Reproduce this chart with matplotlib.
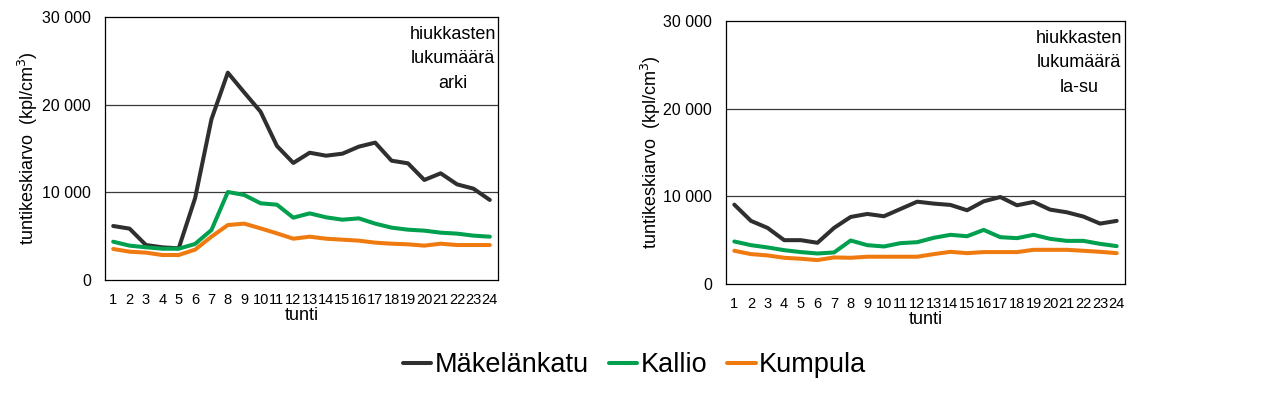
import matplotlib
matplotlib.use("Agg")
import matplotlib.pyplot as plt
from matplotlib.ticker import FuncFormatter

plt.rcParams['font.family'] = ['Liberation Sans', 'DejaVu Sans']

hours = list(range(1, 25))
series_names = ["Mäkelänkatu", "Kallio", "Kumpula"]
colors = ["#2f2f2f", "#00a04f", "#ef7b10"]

arki_makelankatu = [6160, 5860, 3990, 3730, 3610, 9320, 18330, 23650, 21400, 19200, 15290, 13350,
                    14520, 14180, 14410, 15210, 15670, 13610, 13310, 11410, 12170, 10910, 10420, 9130]
arki_kallio = [4370, 3920, 3730, 3570, 3570, 4110, 5700, 10040, 9700, 8750, 8590, 7110,
               7600, 7150, 6880, 7030, 6430, 5970, 5740, 5630, 5400, 5290, 5060, 4940]
arki_kumpula = [3540, 3230, 3120, 2850, 2850, 3460, 4940, 6270, 6430, 5890, 5320, 4710,
                4940, 4710, 4600, 4490, 4260, 4140, 4070, 3920, 4140, 3990, 3990, 3990]

lasu_makelankatu = [9050, 7200, 6400, 5000, 5000, 4700, 6400, 7650, 7990, 7730, 8560, 9390,
                    9170, 9020, 8410, 9430, 9920, 8980, 9360, 8480, 8180, 7690, 6890, 7200]
lasu_kallio = [4850, 4430, 4170, 3860, 3640, 3480, 3600, 4960, 4430, 4280, 4660, 4770,
               5270, 5610, 5450, 6170, 5340, 5230, 5610, 5150, 4920, 4920, 4580, 4320]
lasu_kumpula = [3790, 3410, 3260, 2990, 2880, 2730, 3030, 2990, 3110, 3110, 3110, 3110,
                3410, 3670, 3520, 3640, 3640, 3640, 3900, 3900, 3900, 3790, 3670, 3520]

y_ticks = [0, 10000, 20000, 30000]
titles = ["hiukkasten\nlukumäärä\narki", "hiukkasten\nlukumäärä\nla-su"]
ylabel = "tuntikeskiarvo  (kpl/cm$^3$)"
xlabel = "tunti"

W, H = 1274, 393
fig = plt.figure(figsize=(W / 100, H / 100), dpi=100)

def px_axes(x0, y0, x1, y1):
    return fig.add_axes([x0 / W, 1 - y1 / H, (x1 - x0) / W, (y1 - y0) / H])

ax1 = px_axes(105, 17, 498, 280)
ax2 = px_axes(726, 21, 1125, 284)

fmt = FuncFormatter(lambda v, p: f"{int(v):,}".replace(",", " "))

panels = [
    (ax1, [arki_makelankatu, arki_kallio, arki_kumpula], titles[0], 28, 105, 393),
    (ax2, [lasu_makelankatu, lasu_kallio, lasu_kumpula], titles[1], 651, 726, 399),
]
handles = []
for ax, data, title, ylx, ax_x0, ax_w in panels:
    for vals, name, c in zip(data, series_names, colors):
        h, = ax.plot(hours, vals, color=c, lw=2.9, label=name, solid_capstyle='round',
                     solid_joinstyle='round', zorder=3)
        if ax is ax1:
            handles.append(h)
    ax.set_xlim(0.5, 24.5)
    ax.set_ylim(0, 30000)
    ax.set_yticks(y_ticks)
    ax.yaxis.set_major_formatter(fmt)
    ax.set_xticks(hours)
    ax.set_xticklabels([str(h) for h in hours])
    ax.tick_params(axis='both', length=0)
    ax.tick_params(axis='y', labelsize=11.5, pad=10)
    ax.tick_params(axis='x', labelsize=10.5, pad=9)
    for y in [10000, 20000]:
        ax.axhline(y, color='#3a3a3a', lw=0.9, zorder=1)
    for s in ax.spines.values():
        s.set_linewidth(0.9)
        s.set_color('black')
    ax.set_xlabel(xlabel, fontsize=13, labelpad=0)
    ax.set_ylabel(ylabel, fontsize=13, va='center')
    ax.yaxis.set_label_coords((ylx - ax_x0) / ax_w, 0.5)
    ax.text(0.885, 0.965, title, transform=ax.transAxes, ha='center', va='top',
            fontsize=13, linespacing=1.55)

fig.legend(handles=handles, labels=series_names, loc='center', bbox_to_anchor=(0.498, 0.07),
           ncol=3, frameon=False, fontsize=19.5, handlelength=1.05, handletextpad=0.12,
           columnspacing=0.75)

fig.savefig("out.png", dpi=100)
